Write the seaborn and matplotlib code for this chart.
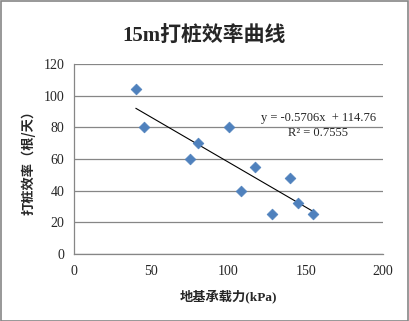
import numpy as np
import pandas as pd
import seaborn as sns
import matplotlib.pyplot as plt
from matplotlib.patches import Rectangle

# data
bearing_kpa = [40, 45, 75, 80, 100, 108, 117, 128, 140, 145, 155]
efficiency = [104, 80, 60, 70, 80, 40, 55, 25, 48, 32, 25]
x_ticks = [0, 50, 100, 150, 200]
y_ticks = [0, 20, 40, 60, 80, 100, 120]
equation = "y = -0.5706x  + 114.76"
r_squared = "R² = 0.7555"

df = pd.DataFrame({"x": bearing_kpa, "y": efficiency})

sns.set_style("white")
plt.rcParams['font.family'] = ['Liberation Serif', 'Noto Sans CJK SC']

fig = plt.figure(figsize=(4.09, 3.21), dpi=100)
ax = fig.add_axes([74 / 409, 1 - 254 / 321, 309 / 409, 190 / 321])

grey = "#868686"
blue = "#4F81BD"

sns.regplot(df, x="x", y="y", ax=ax, scatter=False, ci=None,
            line_kws=dict(color="black", lw=0.8))
sns.scatterplot(df, x="x", y="y", ax=ax, marker="D", s=30, color=blue,
                edgecolor=blue, linewidth=0.5, zorder=3)

ax.set_xlim(0, 200)
ax.set_ylim(0, 120)
ax.set_xticks(x_ticks)
ax.set_yticks(y_ticks)
ax.yaxis.grid(True, color=grey, lw=0.9)
ax.set_axisbelow(True)
for side in ["top", "right"]:
    ax.spines[side].set_visible(False)
for side in ["left", "bottom"]:
    ax.spines[side].set_color(grey)
    ax.spines[side].set_linewidth(0.9)
ax.tick_params(axis="y", length=4, width=0.9, color=grey, direction="out",
               labelsize=10, pad=3)
ax.tick_params(axis="x", length=0, labelsize=10, pad=8)

ax.set_xlabel("地基承载力(kPa)", fontsize=9.5, fontweight="bold", labelpad=8,
              family=['Liberation Serif', 'Noto Sans CJK SC'])
ax.set_ylabel("打桩效率（根/天）", fontsize=9.5, fontweight="bold", labelpad=6,
              family=['Noto Sans CJK SC', 'Liberation Serif'])

ax.text(158, 86, equation, fontsize=9, ha="center", va="center")
ax.text(158, 76.4, r_squared, fontsize=9, ha="center", va="center")

fig.text(0.5, 1 - 37 / 321, "15m打桩效率曲线", fontsize=15, fontweight="bold",
         ha="center", va="center")

fig.patches.append(Rectangle((0.5 / 409, 0.5 / 321), 1 - 1.5 / 409, 1 - 1.5 / 321,
                             transform=fig.transFigure, fill=False,
                             edgecolor=grey, lw=1.2))

fig.savefig("out.png", dpi=100)
